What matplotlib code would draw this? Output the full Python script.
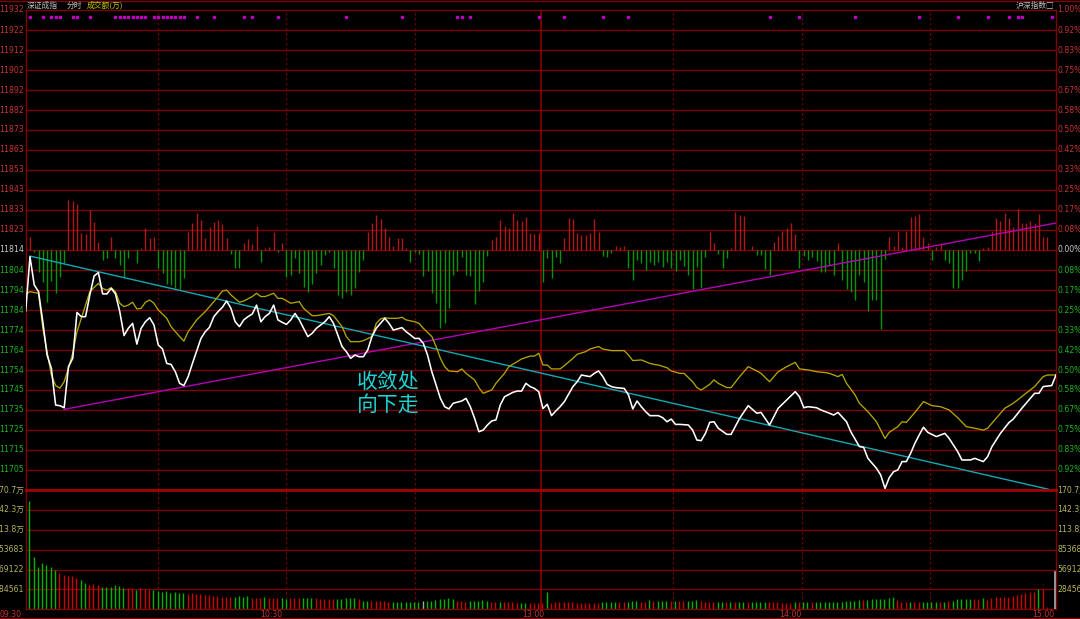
import matplotlib
matplotlib.use("Agg")
import matplotlib.pyplot as plt
import matplotlib.transforms as mtrans
import numpy as np

plt.rcParams["font.family"] = ["DejaVu Sans", "Noto Sans CJK SC"]

# ---------------- data ----------------
PRE_CLOSE = 11814.0
GRID_STEP = 9.84          # one grid row = 0.0833 %
VOL_STEP = 284.561        # one volume grid row (thousand)

price_min = [0, 1, 2, 3, 4, 5, 6, 7, 8, 9, 10, 11, 12, 13, 14, 15, 16, 17, 18, 19,
             20, 21, 22, 23, 24, 25, 26, 27, 28, 29, 30, 31, 32, 33, 34, 35, 36, 37, 38, 39,
             40, 41, 42, 43, 44, 45, 46, 47, 48, 49, 50, 51, 52, 53, 54, 55, 56, 57, 58, 59,
             60, 61, 62, 63, 64, 65, 66, 67, 68, 70, 71, 72, 73, 74, 75, 76, 77, 78, 79, 80,
             81, 82, 84, 85, 86, 88, 89, 90, 91, 92, 93, 94, 95, 96, 97, 98, 99, 100, 102, 103,
             104, 105, 106, 107, 108, 109, 110, 111, 112, 114, 115, 116, 117, 118, 119, 120, 121, 122, 123, 124,
             125, 126, 128, 129, 130, 132, 133, 134, 135, 136, 137, 138, 140, 141, 142, 143, 144, 145, 146, 148,
             149, 150, 151, 152, 153, 155, 156, 157, 158, 159, 160, 161, 162, 164, 165, 167, 169, 171, 172, 174,
             176, 178, 180, 181, 182, 183, 185, 186, 188, 189, 190, 192, 193, 195, 196, 197, 199, 200, 201, 202,
             203, 204, 205, 206, 207, 208, 209, 210, 211, 213, 215, 216, 218, 219, 221, 222, 224, 225, 226, 228,
             230, 231, 233, 235, 236, 237, 238, 240, 241]
price_val = [11784.0, 11810.7, 11796.8, 11793.5, 11778.7, 11762.3, 11755.8, 11737.7, 11737.4, 11736.4,
             11756.6, 11760.7, 11783.3, 11781.2, 11781.2, 11791.9, 11801.2, 11802.9, 11792.4, 11792.4,
             11795.1, 11792.4, 11783.7, 11771.9, 11775.5, 11777.9, 11767.7, 11775.5, 11778.7, 11780.7,
             11777.1, 11767.3, 11765.3, 11758.2, 11757.7, 11754.1, 11748.4, 11747.3, 11751.7, 11758.2,
             11764.3, 11770.5, 11773.8, 11776.0, 11781.2, 11783.7, 11785.8, 11788.9, 11785.3, 11778.7,
             11776.3, 11779.6, 11781.2, 11782.5, 11786.9, 11778.7, 11781.2, 11782.8, 11786.9, 11779.6,
             11778.4, 11777.4, 11779.6, 11782.8, 11779.6, 11775.5, 11771.4, 11773.0, 11775.5, 11778.7,
             11781.2, 11777.9, 11772.2, 11766.5, 11764.0, 11760.7, 11762.3, 11761.5, 11761.5, 11764.8,
             11771.4, 11775.5, 11780.4, 11777.9, 11774.6, 11775.8, 11773.8, 11772.2, 11770.5, 11770.5,
             11768.1, 11762.3, 11754.1, 11747.6, 11741.0, 11736.9, 11735.8, 11738.6, 11739.7, 11741.0,
             11736.9, 11731.2, 11724.6, 11725.4, 11727.9, 11729.9, 11730.4, 11737.7, 11741.8, 11744.0,
             11744.6, 11744.6, 11748.4, 11746.8, 11745.9, 11744.3, 11736.0, 11738.1, 11732.5, 11734.8,
             11736.9, 11739.4, 11746.8, 11749.2, 11752.5, 11751.7, 11753.3, 11754.5, 11751.7, 11747.9,
             11746.8, 11746.3, 11745.9, 11742.7, 11735.8, 11739.7, 11736.9, 11734.5, 11732.5, 11732.5,
             11731.5, 11729.5, 11730.8, 11728.2, 11728.2, 11727.9, 11725.4, 11720.5, 11720.2, 11723.8,
             11729.2, 11729.5, 11726.3, 11723.3, 11723.3, 11731.2, 11737.4, 11733.7, 11734.1, 11727.9,
             11736.1, 11740.2, 11744.3, 11741.8, 11736.4, 11736.9, 11736.4, 11735.3, 11733.7, 11732.8,
             11734.1, 11729.5, 11724.6, 11717.3, 11716.9, 11711.5, 11706.6, 11703.3, 11696.7, 11702.0,
             11704.9, 11705.8, 11709.9, 11709.9, 11714.0, 11718.9, 11723.0, 11726.8, 11724.3, 11722.2,
             11723.8, 11721.3, 11714.8, 11710.7, 11710.7, 11711.5, 11709.9, 11712.3, 11717.2, 11723.8,
             11729.1, 11730.8, 11736.1, 11741.0, 11743.5, 11743.5, 11746.8, 11747.3, 11752.5]

avg_min = [0, 1, 3, 4, 5, 6, 7, 8, 9, 10, 11, 12, 13, 14, 15, 17, 18, 19, 20, 21,
           22, 23, 24, 25, 26, 27, 28, 29, 30, 31, 33, 34, 36, 37, 38, 40, 42, 43, 45, 46,
           47, 48, 50, 51, 53, 54, 55, 56, 58, 59, 60, 62, 64, 65, 67, 68, 70, 71, 72, 74,
           75, 76, 78, 79, 81, 82, 83, 84, 85, 87, 88, 89, 91, 92, 93, 95, 96, 97, 98, 99,
           101, 102, 103, 105, 106, 107, 109, 110, 112, 113, 115, 116, 118, 119, 120, 121, 122, 123, 125, 126,
           128, 129, 131, 132, 134, 135, 137, 139, 140, 141, 142, 144, 146, 147, 148, 150, 151, 153, 154, 156,
           157, 158, 160, 161, 162, 164, 165, 167, 169, 171, 172, 174, 176, 178, 180, 181, 183, 185, 187, 188,
           190, 191, 192, 194, 195, 197, 199, 201, 202, 204, 205, 206, 208, 210, 212, 214, 216, 218, 220, 222,
           224, 225, 227, 229, 231, 233, 236, 238, 239, 241]
avg_val = [11792.2, 11793.5, 11792.7, 11775.5, 11764.0, 11752.5, 11747.3, 11746.0, 11749.2, 11755.8,
           11763.2, 11773.8, 11780.4, 11786.9, 11793.5, 11797.6, 11795.1, 11794.3, 11795.5, 11793.5,
           11787.8, 11786.1, 11786.9, 11788.3, 11785.0, 11785.3, 11788.3, 11789.4, 11787.8, 11784.5,
           11780.4, 11776.3, 11771.4, 11769.2, 11773.8, 11779.6, 11783.7, 11786.1, 11791.1, 11793.8,
           11794.3, 11791.9, 11788.3, 11788.9, 11791.1, 11792.7, 11791.1, 11791.1, 11792.7, 11790.2,
           11790.2, 11787.8, 11788.6, 11785.3, 11781.7, 11781.7, 11782.4, 11782.8, 11781.7, 11776.3,
           11771.4, 11768.9, 11768.9, 11769.4, 11771.4, 11777.9, 11780.1, 11780.7, 11780.4, 11780.4,
           11780.9, 11779.6, 11778.7, 11777.9, 11775.5, 11771.4, 11766.5, 11760.7, 11756.6, 11754.5,
           11754.1, 11755.5, 11753.3, 11750.1, 11746.3, 11743.5, 11745.1, 11748.4, 11753.3, 11756.6,
           11759.1, 11760.4, 11761.8, 11761.8, 11763.2, 11757.4, 11757.4, 11755.5, 11755.5, 11757.1,
           11760.7, 11762.7, 11764.0, 11765.3, 11766.5, 11765.3, 11764.5, 11764.5, 11764.5, 11762.3,
           11759.6, 11759.9, 11758.2, 11757.7, 11757.4, 11756.1, 11754.5, 11753.3, 11753.3, 11749.2,
           11746.3, 11745.1, 11747.9, 11750.1, 11748.4, 11746.3, 11746.3, 11751.7, 11756.6, 11754.5,
           11753.3, 11749.2, 11754.1, 11756.6, 11758.7, 11755.5, 11755.0, 11754.1, 11753.7, 11753.3,
           11751.7, 11752.8, 11748.4, 11742.7, 11738.6, 11734.5, 11729.5, 11721.3, 11724.3, 11727.1,
           11729.5, 11729.2, 11734.1, 11739.4, 11737.4, 11736.9, 11735.3, 11731.5, 11727.1, 11726.3,
           11725.4, 11726.3, 11731.2, 11736.1, 11738.6, 11741.9, 11746.8, 11751.7, 11752.5, 11752.5]

# red / green strength bars around the zero line (index points)
lead_min = list(range(1, 25)) + list(range(26, 169)) + list(range(170, 240))
lead_val = [6.6, -0.8, -10.7, -15.9, -25.7, -15.3, -21.3, -13.1, -6.6, 24.6,
            24.1, 22.5, 8.2, 7.7, 19.7, 13.9, 4.1, -4.9, -4.1, 6.6,
            -4.1, -7.4, -13.1, -4.1,
            -6.6, 0.8, 10.7, 5.7, 6.6, -9.0, -11.5, -16.9, -17.2, -18.9,
            -19.2, -13.9, 9.0, 13.1, 18.0, 14.8, 6.1, 11.5, 13.9, 14.8,
            12.6, 6.1, -2.1, -9.0, -9.0, 3.6, 5.2, 2.8, 12.0, -5.7,
            0.8, 1.6, 9.0, -0.8, 3.6, -13.1, -12.3, -3.8, -11.5, -18.0,
            -20.5, -16.9, -11.5, -7.4, -2.5, -1.1, -9.0, -22.1, -23.8, -20.5,
            -22.1, -18.5, -10.7, -4.9, 8.7, 13.1, 17.2, 15.3, 11.0, 6.6,
            2.0, 6.1, 6.1, 0.8, -5.7, -0.8, -2.1, -12.6, -10.3, -21.3,
            -26.2, -38.5, -36.1, -28.4, -12.3, -10.3, -3.3, -12.3, -12.6, -26.7,
            -20.2, -15.9, -2.8, 4.9, 6.6, 14.8, 12.0, 11.0, 18.0, 14.8,
            14.3, 16.4, 8.2, 7.7, 8.2, -15.9, -4.1, -13.9, -3.3, -6.6,
            5.7, 15.6, 15.3, 8.2, 7.4, 7.4, 8.2, 15.3, 8.7, -2.8,
            -3.3, -1.6, 2.1, 1.6, 2.1, -9.0, -14.8, -4.9, -6.6, -9.8,
            -5.7, -7.4, -5.7, -8.2, -5.7, -8.7, -10.3, -4.9, -7.7, -12.3,
            -19.2, -8.2, -18.9, -3.3, 9.0, 3.3, -2.1, -8.7, -4.1, 0.8,
            18.9, 17.2, 16.9,
            2.0, -2.5, -2.5, -9.3, -12.3, 4.1, 7.1, 9.3, 11.0, 13.4,
            7.7, -9.0, -2.8, -4.9, -3.3, -5.4, -11.0, -11.0, -7.7, -12.3,
            3.6, -14.8, -19.2, -20.5, -24.6, -12.3, -15.9, -30.0, -24.6, -24.6,
            -39.0, -4.4, 6.6, 2.0, 9.3, 1.6, 9.3, 16.4, 16.7, 17.5,
            6.6, 3.3, -4.9, 1.6, 3.6, -4.9, -6.6, -18.5, -18.9, -14.8,
            -10.3, -1.6, -1.6, -5.2, 0.8, 1.6, 9.3, 15.6, 14.3, 18.0,
            15.9, 11.5, 20.2, 13.1, 13.1, 14.3, 13.1, 17.5, 6.6, 6.6]

# per-minute volume (thousand) and bar colour (r up / g down / w flat)
vol_k = [1551, 754, 612, 664, 640, 602, 565, 516, 484, 470, 470, 445, 413, 374, 341, 356, 351, 317, 317, 317,
         341, 330, 300, 310, 290, 280, 300, 285, 270, 280, 260, 250, 265, 240, 250, 230, 240, 225, 230, 220,
         215, 204, 204, 194, 190, 180, 180, 180, 171, 190, 171, 190, 166, 166, 166, 180, 157, 157, 157, 166,
         142, 157, 157, 166, 166, 166, 166, 157, 147, 147, 147, 147, 142, 147, 157, 157, 157, 147, 123, 123,
         123, 123, 123, 114, 104, 104, 100, 100, 100, 100, 100, 100, 119, 123, 123, 133, 147, 147, 157, 147,
         123, 114, 104, 114, 114, 123, 133, 114, 100, 100, 100, 100, 100, 100, 95, 95, 90, 90, 90, 90,
         90, 251, 90, 100, 100, 100, 100, 100, 95, 95, 95, 95, 95, 95,
         100, 100, 100, 100, 100, 100, 100, 123, 123, 109, 109, 133, 119, 123, 123, 123, 123, 119, 119, 114,
         114, 123, 133, 119, 109, 109, 109, 104, 104, 104, 100, 100, 100, 100, 100, 100, 100, 100, 100, 100,
         100, 100, 95, 95, 95, 109, 109, 109, 109, 100, 100, 100, 100, 104, 104, 104, 104, 119, 119, 119,
         133, 133, 133, 142, 142, 142, 142, 157, 171, 133, 109, 109, 109, 109, 109, 109, 109, 109, 109, 109,
         109, 123, 123, 142, 142, 147, 147, 150, 150, 156, 133, 156, 180, 180, 180, 171, 190, 204, 218, 228,
         251, 251, 289, 289, 38]
vol_col = ("gggggggrrrrrggrrrgggg"
           "ggrrgrrrggggggggrrrr"
           "rrrrrrrggggrrrgrrrggrrrgggrrrrrgggggrggrrrrrgggggggwgggggggrrrgggggrrgrrrrggrrrrgrrrrrrrrrrrr"
           "ggggrrg" "gg" "rr" "g" "r" "ggg" "r" "gr" "rg" "g" "g" "r" "rrr" "ggr" "grggrg" "gggrrr"
           "rrr" "grgg" "rggg" "gggg" "ggg" "grg" "gggg" "g" "g" "r" "rrg" "rrgg" "ggrg" "rg" "ggggrr"
           "g" "rrrrrrrrrrrr" "g" "rr")

signal_min = [1, 4, 6, 7, 8, 11, 12, 15, 21, 22, 23, 24, 25, 26, 27, 28, 30, 31, 32, 33,
              34, 35, 36, 37, 40, 44, 51, 53, 59, 75, 88, 101, 102, 104, 120, 126, 135, 141,
              174, 181, 194, 209, 218, 225, 230, 232, 233, 240]

cyan_min, cyan_val = [1, 239.2], [11811.0, 11696.3]
mag_min, mag_val = [9, 240.8], [11735.6, 11827.2]

price_labels = ["11932", "11922", "11912", "11902", "11892", "11882", "11873", "11863",
                "11853", "11843", "11833", "11823", "11814", "11804", "11794", "11784",
                "11774", "11764", "11754", "11745", "11735", "11725", "11715", "11705"]
pct_labels = ["1.00%", "0.92%", "0.83%", "0.75%", "0.67%", "0.58%", "0.50%", "0.42%",
              "0.33%", "0.25%", "0.17%", "0.08%", "0.00%", "0.08%", "0.17%", "0.25%",
              "0.33%", "0.42%", "0.50%", "0.58%", "0.67%", "0.75%", "0.83%", "0.92%"]
vol_labels = ["284561", "569122", "853683", "113.8万", "142.3万", "170.7万"]
time_labels = ["09:30", "10:30", "13:00", "14:00", "15:00"]
time_label_pos = [-0.9, 60.0, 121.2, 181.4, 240.5]

# ---------------- drawing ----------------
W, H = 1080, 619
fig = plt.figure(figsize=(W / 100, H / 100), dpi=100, facecolor="black")
L, R = 25.7, 1056.0
ax = fig.add_axes([L / W, 1 - 490 / H, (R - L) / W, 480 / H])
axv = fig.add_axes([L / W, 1 - 609.3 / H, (R - L) / W, 119.3 / H])

GRID = "#820000"
for a in (ax, axv):
    a.set_facecolor("black")
    a.set_xlim(0, 241)
    a.set_xticks([])
    a.set_yticks([])
    for s in a.spines.values():
        s.set_color(GRID)
        s.set_linewidth(1.0)

ax.set_ylim(PRE_CLOSE - 12 * GRID_STEP, PRE_CLOSE + 12 * GRID_STEP)
axv.set_ylim(0, 6 * VOL_STEP)

for k in range(-11, 12):
    ax.axhline(PRE_CLOSE + k * GRID_STEP, color=GRID, lw=1.0, zorder=1)
for k in range(1, 6):
    axv.axhline(k * VOL_STEP, color=GRID, lw=1.0, zorder=1)
ax.spines["bottom"].set_linewidth(2.0)
ax.spines["bottom"].set_color("#a00000")

half_hours = [31, 61, 91, 151.3, 181.5, 211.5]
for a in (ax, axv):
    for t in half_hours:
        a.axvline(t, color="#6a0000", lw=0.9, ls=(0, (2, 2)), zorder=1)
    a.axvline(120.5, color="#8a0000", lw=1.2, zorder=1)

# strength bars
lead_min_a = np.array(lead_min)
lead_val_a = np.array(lead_val)
cols = np.where(lead_val_a >= 0, "#b01818", "#00960a")
ax.vlines(lead_min_a, PRE_CLOSE, PRE_CLOSE + lead_val_a, colors=cols, lw=1.0, zorder=2)

# trend lines
ax.plot(mag_min, mag_val, color="#b400b4", lw=1.0, zorder=3)
ax.plot(cyan_min, cyan_val, color="#12a8b4", lw=1.0, zorder=3)

# yellow line and price line
ax.plot(avg_min, avg_val, color="#b4a400", lw=0.95, zorder=4)
ax.plot(price_min, price_val, color="white", lw=1.15, zorder=5)

# signal marks along the top
sig_tr = mtrans.blended_transform_factory(ax.transData, ax.transAxes)
ax.plot(signal_min, [1 - 7 / 480] * len(signal_min), ls="none", marker="s", ms=1.6,
        color="#c000c0", transform=sig_tr, zorder=3)

# annotation
ax.text(77.5, 11743.5, "收敛处\n向下走", color="#1ed2d2", fontsize=15,
        family=["Noto Sans CJK SC"], ha="left", va="center", linespacing=1.05, zorder=6)

# volume bars
vcol_map = {"r": "#d00000", "g": "#00b400", "w": "#a8a8a8"}
vpos = np.arange(len(vol_k)) + 0.85
axv.vlines(vpos, 0, vol_k, colors=[vcol_map[c] for c in vol_col[:len(vol_k)]], lw=1.0, zorder=2)
axv.plot([240.7, 240.7], [0, 527], color="#b0b0b0", lw=1.2, zorder=3)

# axis labels
FS = 5.6
ytr = ax.get_yaxis_transform()
for k, (pl, cl) in enumerate(zip(price_labels, pct_labels)):
    yv = PRE_CLOSE + (12 - k) * GRID_STEP
    if k < 12:
        c = "#c83232"
    elif k == 12:
        c = "#c8c8c8"
    else:
        c = "#1eb41e"
    ax.text(-0.0017, yv, pl, transform=ytr, ha="right", va="center", fontsize=FS, color=c, clip_on=False)
    ax.text(1.0015, yv, cl, transform=ytr, ha="left", va="center", fontsize=FS, color=c, clip_on=False)

vtr = axv.get_yaxis_transform()
for k, vl in enumerate(vol_labels, start=1):
    axv.text(-0.0017, k * VOL_STEP, vl, transform=vtr, ha="right", va="center", fontsize=FS,
             color="#b4b45a", clip_on=False)
    axv.text(1.0015, k * VOL_STEP, vl, transform=vtr, ha="left", va="center", fontsize=FS,
             color="#b4b45a", clip_on=False)

ttr = mtrans.blended_transform_factory(axv.transData, axv.transAxes)
for tl, tp in zip(time_labels, time_label_pos):
    axv.text(tp, -0.04, tl, transform=ttr, ha="right", va="center", fontsize=FS,
             color="#c83232", clip_on=False)

# header
fig.text(27 / W, 1 - 5.5 / H, "深证成指", color="#c0c0c0", fontsize=5.6,
         family=["Noto Sans CJK SC"], ha="left", va="center")
fig.text(67 / W, 1 - 5.5 / H, "分时", color="#c0c0c0", fontsize=5.6,
         family=["Noto Sans CJK SC"], ha="left", va="center")
fig.text(87 / W, 1 - 5.5 / H, "成交额(万)", color="#c8c800", fontsize=5.6,
         family=["Noto Sans CJK SC"], ha="left", va="center")
fig.text(1054 / W, 1 - 5.5 / H, "沪深指数□", color="#c0c0c0", fontsize=5.6,
         family=["Noto Sans CJK SC", "DejaVu Sans"], ha="right", va="center")

# outer frame lines
fig.add_artist(plt.Line2D([0, 1], [1 - 0.5 / H, 1 - 0.5 / H], color=GRID, lw=1.0,
                          transform=fig.transFigure))
fig.add_artist(plt.Line2D([0, 1], [1 - 618 / H, 1 - 618 / H], color=GRID, lw=1.0,
                          transform=fig.transFigure))
fig.add_artist(plt.Line2D([L / W, 1056 / W], [1 - 490 / H, 1 - 490 / H], color="#a00000", lw=2.0,
                          transform=fig.transFigure))

fig.savefig("out.png", dpi=100, facecolor="black")
